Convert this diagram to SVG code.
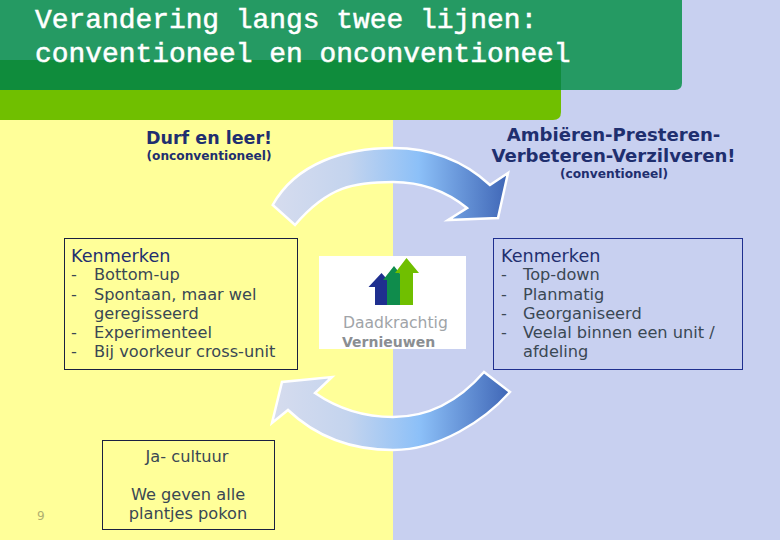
<svg xmlns="http://www.w3.org/2000/svg" width="780" height="540" viewBox="0 0 780 540">
<style>
text{font-family:"DejaVu Sans",Verdana,sans-serif;fill:#3a4854}
.title{font-family:"Liberation Mono","Courier New",monospace;font-size:27.9px;fill:#fff;stroke:#fff;stroke-width:.5px}
.h{font-size:18.100px;font-weight:bold;fill:#1f2f6f;text-anchor:middle}
.s{font-size:12.200px;font-weight:bold;fill:#1f2f6f;text-anchor:middle}
.k{font-size:17.600px;fill:#1f2f6f}
.b{font-size:16.200px}
.c{font-size:16.200px;text-anchor:middle}
.box{fill:none;stroke:#1a2040;stroke-width:1}
.arrow{fill:url(#g);stroke:#fff;stroke-width:2.500;stroke-linejoin:miter}
</style>
<defs>
<linearGradient id="g" gradientUnits="objectBoundingBox" x1="0" y1="0" x2="1" y2="0">
<stop offset="0" stop-color="#d6dcee"/><stop offset=".32" stop-color="#c4d4ee"/><stop offset=".62" stop-color="#8cc0f8"/><stop offset="1" stop-color="#3f66b6"/>
</linearGradient>
</defs>
<g id="background">
<rect width="780" height="540" fill="#c8d0f0"/>
<rect x="0" y="120" width="393" height="420" fill="#ffff99"/>
<path d="M0 60H561V112Q561 120 553 120H0Z" fill="#70bf00"/>
<path d="M0 0H682V83Q682 90 675 90H561V60H0Z" fill="#259a63"/>
<rect x="0" y="60" width="561" height="30" fill="#0f8c3c"/>
</g>
<g id="title">
<text class="title" x="35" y="28">Verandering langs twee lijnen:</text>
<text class="title" x="35" y="62">conventioneel en onconventioneel</text>
</g>
<g id="connectors">
<path class="arrow" d="M272.700 205C296 163 345 148 393 148Q450 148 490 185L508 173L498 218L448 220L467 208Q435 182 393 182C355 182 328 186 295 225Z"/>
<path class="arrow" d="M484 372L510 392C485 420 440 450 393 450Q330 450 288 410L272 423L282 382L332 377L315 393Q350 417 393 417Q445 417 484 372Z"/>
</g>
<g id="node-durf">
<text class="h" x="209" y="144" style="font-size:17.500px">Durf en leer!</text>
<text class="s" x="209" y="160">(onconventioneel)</text>
</g>
<g id="node-ambieren">
<text class="h" x="613.500" y="141">Ambiëren-Presteren-</text>
<text class="h" x="613.500" y="162">Verbeteren-Verzilveren!</text>
<text class="s" x="614" y="178">(conventioneel)</text>
</g>
<g id="node-kenmerken-links">
<rect class="box" x="64.500" y="238.500" width="233" height="131"/>
<text class="k" x="71" y="262">Kenmerken</text>
<text class="b" x="71" y="280">-</text><text class="b" x="94" y="280">Bottom-up</text>
<text class="b" x="71" y="300">-</text><text class="b" x="94" y="300">Spontaan, maar wel</text>
<text class="b" x="94" y="319">geregisseerd</text>
<text class="b" x="71" y="338">-</text><text class="b" x="94" y="338">Experimenteel</text>
<text class="b" x="71" y="357">-</text><text class="b" x="94" y="357">Bij voorkeur cross-unit</text>
</g>
<g id="node-kenmerken-rechts">
<rect x="493.500" y="238.500" width="249" height="131" fill="none" stroke="#1f2f8f"/>
<text class="k" x="501" y="262">Kenmerken</text>
<text class="b" x="501" y="280">-</text><text class="b" x="523" y="280">Top-down</text>
<text class="b" x="501" y="300">-</text><text class="b" x="523" y="300">Planmatig</text>
<text class="b" x="501" y="319">-</text><text class="b" x="523" y="319">Georganiseerd</text>
<text class="b" x="501" y="338">-</text><text class="b" x="523" y="338">Veelal binnen een unit /</text>
<text class="b" x="523" y="357">afdeling</text>
</g>
<g id="node-cultuur">
<rect class="box" x="102.500" y="440.500" width="172" height="89"/>
<text class="c" x="187" y="462">Ja- cultuur</text>
<text class="c" x="188" y="500">We geven alle</text>
<text class="c" x="188" y="519">plantjes pokon</text>
</g>
<g id="page-number"><text x="37" y="520" style="font-size:12px;fill:#b0b070">9</text></g>
<g id="node-logo">
<rect x="319" y="256" width="147" height="93" fill="#fff"/>
<path d="M375 305V287H368.500L381.500 273L394 287H388V305Z" fill="#1f2f8f"/>
<path d="M387 305V280H383L394 266L405 280H400V305Z" fill="#0f8c4c"/>
<path d="M400 305V273H395L406.500 258L419 273H413V305Z" fill="#70bf00"/>
<text x="343" y="328" style="font-size:15.600px;fill:#a0a4a8">Daadkrachtig</text>
<text x="342" y="347" style="font-size:14px;font-weight:bold;fill:#8a8e92">Vernieuwen</text>
</g>
</svg>
